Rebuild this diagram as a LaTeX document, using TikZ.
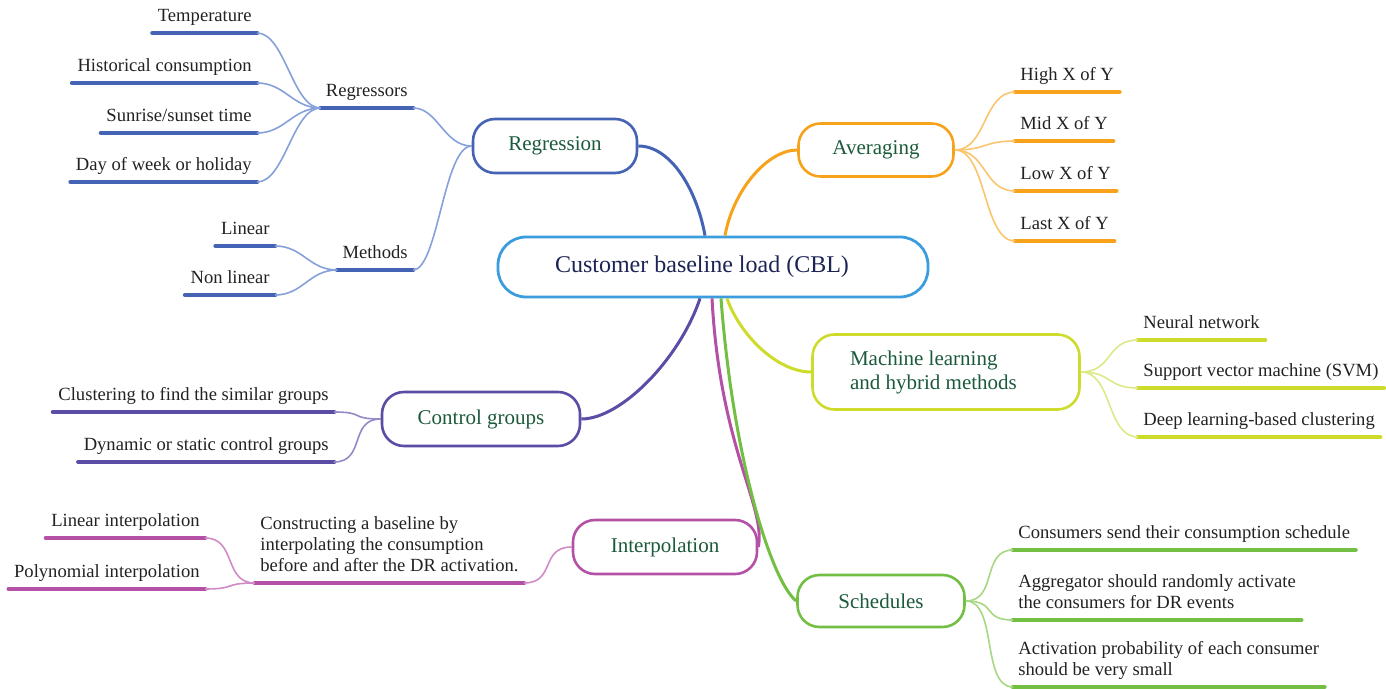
\documentclass[tikz,border=0pt]{standalone}
\usepackage{fontspec}
\setmainfont{Liberation Serif}
\definecolor{cblblue}{HTML}{3B9DDD}
\definecolor{cbltext}{HTML}{1C2456}
\definecolor{brtext}{HTML}{1C5A3C}
\definecolor{lftext}{HTML}{222222}
\definecolor{regc}{HTML}{4463B5}
\definecolor{regl}{HTML}{86A0DA}
\definecolor{avgc}{HTML}{F7A21B}
\definecolor{avgl}{HTML}{FBC56E}
\definecolor{mlc}{HTML}{CDDC2A}
\definecolor{mll}{HTML}{DEE889}
\definecolor{cgc}{HTML}{5B4CA6}
\definecolor{cgl}{HTML}{9589C6}
\definecolor{ipc}{HTML}{B451A6}
\definecolor{ipl}{HTML}{D08BC6}
\definecolor{scc}{HTML}{72BF44}
\definecolor{scl}{HTML}{A5D882}
\tikzset{
  root/.style={draw=cblblue,line width=1.4pt,rounded corners=14pt,fill=white,text=cbltext,
    minimum width=215pt,minimum height=30pt,text width=158pt,align=flush left,
    font=\fontsize{12}{14}\selectfont},
  branch/.style={draw=#1,line width=1.3pt,rounded corners=11pt,fill=white,text=brtext,
    font=\fontsize{10.5}{12}\selectfont,align=flush left},
  leaf/.style={inner xsep=2.5pt,inner ysep=3.5pt,text depth=2pt,text=lftext,
    font=\fontsize{9.3}{10.6}\selectfont,align=flush left},
  ul/.style={line width=2.3pt,line cap=round,#1},
  trunk/.style={line width=1.5pt,#1},
  twig/.style={line width=0.8pt,#1},
}
\begin{document}
\begin{tikzpicture}[x=0.5pt,y=-0.5pt]
\useasboundingbox (0,0) rectangle (1386,689);
% centre and main branches
\node[root] (cbl) at (713,267) {Customer baseline load (CBL)};
\node[branch=regc,minimum width=82pt,minimum height=27pt] (reg) at (555,146) {Regression};
\node[branch=avgc,minimum width=77.5pt,minimum height=26.5pt] (avg) at (876,150) {Averaging};
\node[branch=mlc,minimum width=133.5pt,minimum height=37.5pt,text width=96pt] (ml) at (946,372) {Machine learning\\and hybrid methods};
\node[branch=cgc,minimum width=99pt,minimum height=27pt] (cg) at (481,419) {Control groups};
\node[branch=ipc,minimum width=92pt,minimum height=27pt] (intp) at (665,547) {Interpolation};
\node[branch=scc,minimum width=83.5pt,minimum height=26pt] (sch) at (881,601) {Schedules};
\draw[trunk=regc](reg.east)..controls +(33,0) and +(-8,-45)..([xshift=-4pt]cbl.north);
\draw[trunk=avgc](avg.west)..controls +(-30,0) and +(8,-45)..([xshift=6pt]cbl.north);
\draw[trunk=mlc]([xshift=7pt]cbl.south)..controls +(12,35) and +(-35,0)..(ml.west);
\draw[trunk=cgc]([xshift=-6.5pt]cbl.south)..controls +(-20,60) and +(40,0)..(cg.east);
\draw[trunk=ipc]([xshift=-0.5pt]cbl.south)..controls +(8,150) and +(8,-40)..(intp.east);
\draw[trunk=scc]([xshift=4pt]cbl.south)..controls +(12,160) and +(-25,-20)..(sch.west);
% regression
\node[leaf,anchor=south east] (regr) at (413,108) {Regressors};
\node[leaf,anchor=south east] (meth) at (413,270) {Methods};
\foreach \n in {regr,meth}{
  \draw[ul=regc](\n.south west)--(\n.south east);
  \draw[twig=regl](reg.west)..controls +(-28,0) and +(25,0)..(\n.south east);
}
\foreach \n/\y/\lb in {a/33/Temperature,b/83/Historical consumption,c/133/{Sunrise/sunset time},d/182/Day of week or holiday}{
  \node[leaf,anchor=south east] (rg\n) at (257,\y) {\lb};
  \draw[ul=regc](rg\n.south west)--(rg\n.south east);
  \draw[twig=regl](regr.south west) to[out=180,in=0,distance=14pt] (rg\n.south east);
}
\foreach \n/\y/\lb in {a/246/Linear,b/295/Non linear}{
  \node[leaf,anchor=south east] (mt\n) at (275,\y) {\lb};
  \draw[ul=regc](mt\n.south west)--(mt\n.south east);
  \draw[twig=regl](meth.south west) to[out=180,in=0,distance=14pt] (mt\n.south east);
}
% averaging
\foreach \n/\y/\lb in {a/92/High X of Y,b/141/Mid X of Y,c/191/Low X of Y,d/241/Last X of Y}{
  \node[leaf,anchor=south west] (av\n) at (1015,\y) {\lb};
  \draw[ul=avgc](av\n.south west)--(av\n.south east);
  \draw[twig=avgl](avg.east) to[out=0,in=180,distance=16pt] (av\n.south west);
}
% machine learning
\foreach \n/\y/\lb in {a/340/Neural network,b/388/Support vector machine (SVM),c/437/Deep learning-based clustering}{
  \node[leaf,anchor=south west] (ml\n) at (1138,\y) {\lb};
  \draw[ul=mlc](ml\n.south west)--(ml\n.south east);
  \draw[twig=mll](ml.east) to[out=0,in=180,distance=16pt] (ml\n.south west);
}
% control groups
\foreach \n/\y/\lb in {a/412/Clustering to find the similar groups,b/462/Dynamic or static control groups}{
  \node[leaf,anchor=south east] (cg\n) at (334,\y) {\lb};
  \draw[ul=cgc](cg\n.south west)--(cg\n.south east);
  \draw[twig=cgl](cg.west) to[out=180,in=0,distance=16pt] (cg\n.south east);
}
% interpolation
\node[leaf,anchor=south east] (cons) at (524,583) {Constructing a baseline by\\interpolating the consumption\\before and after the DR activation.};
\draw[ul=ipc](cons.south west)--(cons.south east);
\draw[twig=ipl](intp.west) to[out=180,in=0,distance=16pt] (cons.south east);
\foreach \n/\y/\lb in {a/538/Linear interpolation,b/589/Polynomial interpolation}{
  \node[leaf,anchor=south east] (ip\n) at (205,\y) {\lb};
  \draw[ul=ipc](ip\n.south west)--(ip\n.south east);
  \draw[twig=ipl](cons.south west) to[out=180,in=0,distance=16pt] (ip\n.south east);
}
% schedules
\foreach \n/\y/\lb in {a/550/Consumers send their consumption schedule,b/620/{Aggregator should randomly activate\\the consumers for DR events},c/687/{Activation probability of each consumer\\should be very small}}{
  \node[leaf,anchor=south west] (sc\n) at (1013,\y) {\lb};
  \draw[ul=scc](sc\n.south west)--(sc\n.south east);
  \draw[twig=scl](sch.east) to[out=0,in=180,distance=16pt] (sc\n.south west);
}
\end{tikzpicture}
\end{document}
